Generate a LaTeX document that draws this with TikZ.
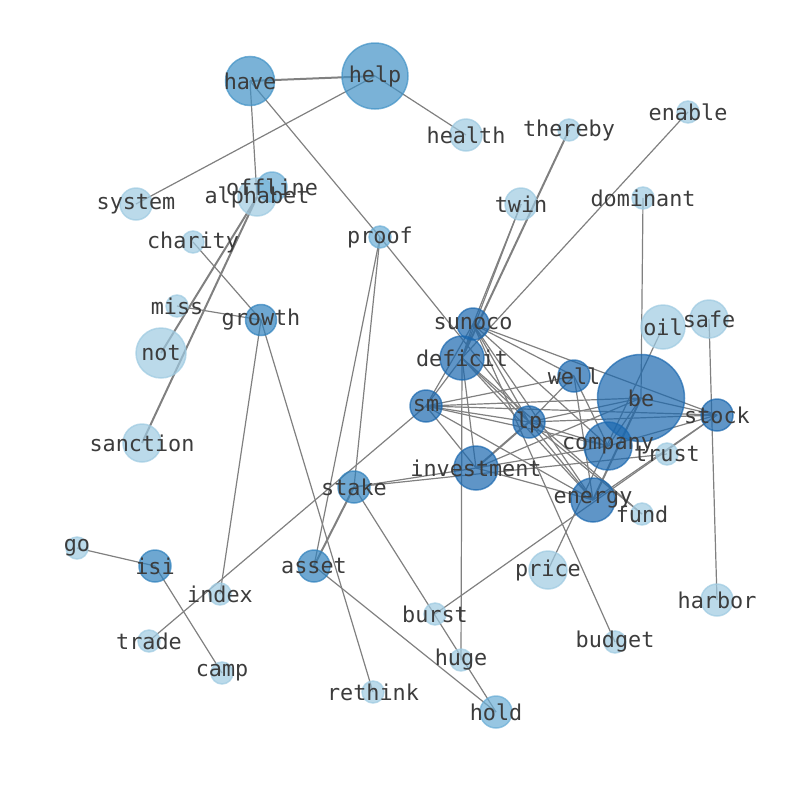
\documentclass[tikz,border=0pt]{standalone}
\usepackage{fontspec}
\newfontfamily\monof{DejaVu Sans Mono}
\definecolor{cA}{HTML}{9ECAE1}
\definecolor{cB}{HTML}{6BAED6}
\definecolor{cC}{HTML}{4292C6}
\definecolor{cD}{HTML}{3182BD}
\definecolor{cE}{HTML}{1B68AF}
\definecolor{edgec}{HTML}{808080}
\definecolor{txtc}{HTML}{3C3C3C}
\pgfdeclarelayer{bg}
\pgfsetlayers{bg,main}
\tikzset{
  lbl/.style={font=\monof\fontsize{21.8}{24}\selectfont, text=txtc, inner sep=0pt, anchor=center},
  nd/.style 2 args={circle, inner sep=0pt, minimum size=#1pt, fill=#2, draw=#2, line width=1.5pt, fill opacity=0.7, draw opacity=0.7},
  ed/.style={draw=edgec, line width=1.2pt},
  edt/.style={draw=edgec, line width=2pt},
}
\newcommand{\gnode}[5]{\node[nd={#4}{#5}] (#1) at (#2,#3) {};}
\begin{document}
\begin{tikzpicture}[x=1pt,y=-1pt]
\useasboundingbox (0,0) rectangle (794,790);
% nodes: name, x, y, diameter, colour
\gnode{have}{250}{81}{49}{cC}
\gnode{help}{375}{76}{66}{cC}
\gnode{health}{466}{135}{32}{cA}
\gnode{thereby}{569}{130}{22}{cA}
\gnode{enable}{688}{112}{22}{cA}
\gnode{system}{136}{204}{32}{cA}
\gnode{alphabet}{257}{197}{38}{cA}
\gnode{offline}{272}{187}{30}{cB}
\gnode{twin}{521}{204}{32}{cA}
\gnode{dominant}{643}{198}{22}{cA}
\gnode{charity}{193}{242}{22}{cA}
\gnode{proof}{380}{237}{22}{cB}
\gnode{miss}{177}{306}{22}{cA}
\gnode{growth}{261}{320}{31}{cD}
\gnode{not}{161}{353}{50}{cA}
\gnode{sunoco}{473}{324}{32}{cE}
\gnode{deficit}{462}{358}{44}{cE}
\gnode{oil}{663}{327}{44}{cA}
\gnode{safe}{709}{319}{38}{cA}
\gnode{well}{574}{376}{32}{cE}
\gnode{be}{641}{398}{87}{cE}
\gnode{sm}{426}{406}{32}{cE}
\gnode{stock}{717}{415}{32}{cE}
\gnode{lp}{529}{422}{32}{cE}
\gnode{company}{608}{446}{48}{cE}
\gnode{trust}{667}{454}{22}{cA}
\gnode{sanction}{142}{443}{38}{cA}
\gnode{investment}{476}{468}{44}{cE}
\gnode{stake}{354}{487}{32}{cD}
\gnode{energy}{593}{500}{44}{cE}
\gnode{fund}{642}{514}{22}{cA}
\gnode{go}{77}{548}{22}{cA}
\gnode{isi}{155}{566}{32}{cD}
\gnode{asset}{314}{566}{32}{cD}
\gnode{price}{548}{570}{38}{cA}
\gnode{index}{220}{594}{22}{cA}
\gnode{burst}{435}{614}{22}{cA}
\gnode{harbor}{717}{600}{32}{cA}
\gnode{trade}{149}{641}{22}{cA}
\gnode{budget}{615}{642}{22}{cA}
\gnode{huge}{461}{660}{22}{cA}
\gnode{camp}{222}{673}{22}{cA}
\gnode{rethink}{373}{692}{22}{cA}
\gnode{hold}{496}{712}{32}{cB}
% labels
\foreach \n in {have,help,health,thereby,enable,system,alphabet,offline,twin,dominant,charity,proof,miss,growth,not,sunoco,deficit,oil,safe,well,be,sm,stock,lp,company,trust,sanction,investment,stake,energy,fund,go,isi,asset,price,index,burst,harbor,trade,budget,huge,camp,rethink,hold}
  \node[lbl] at (\n.center) {\n};
% edges
\begin{pgfonlayer}{bg}
\foreach \a/\b in {help/health,help/system,have/alphabet,have/proof,proof/lp,proof/asset,proof/stake,
  charity/growth,miss/growth,growth/index,growth/rethink,go/isi,isi/camp,trade/sm,
  stake/trust,stake/hold,asset/hold,burst/stock,deficit/huge,sunoco/budget,oil/price,
  safe/harbor,dominant/be,enable/deficit,twin/sunoco,twin/deficit,
  sunoco/deficit,sunoco/stock,sunoco/well,sunoco/company,sunoco/lp,sunoco/energy,sunoco/sm,
  deficit/sm,deficit/lp,deficit/energy,deficit/investment,deficit/fund,
  sm/well,sm/be,sm/stock,sm/lp,sm/company,sm/energy,sm/investment,
  lp/well,lp/be,lp/stock,lp/company,lp/energy,lp/fund,
  investment/be,investment/company,investment/energy,
  well/energy,well/company,be/company,be/stock,company/stock,energy/stock,stake/investment}
  \draw[ed] (\a.center) -- (\b.center);
\foreach \a/\b in {have/help,thereby/deficit,alphabet/not,alphabet/sanction,stake/asset,lp/investment,be/energy}
  \draw[edt] (\a.center) -- (\b.center);
\end{pgfonlayer}
\end{tikzpicture}
\end{document}
